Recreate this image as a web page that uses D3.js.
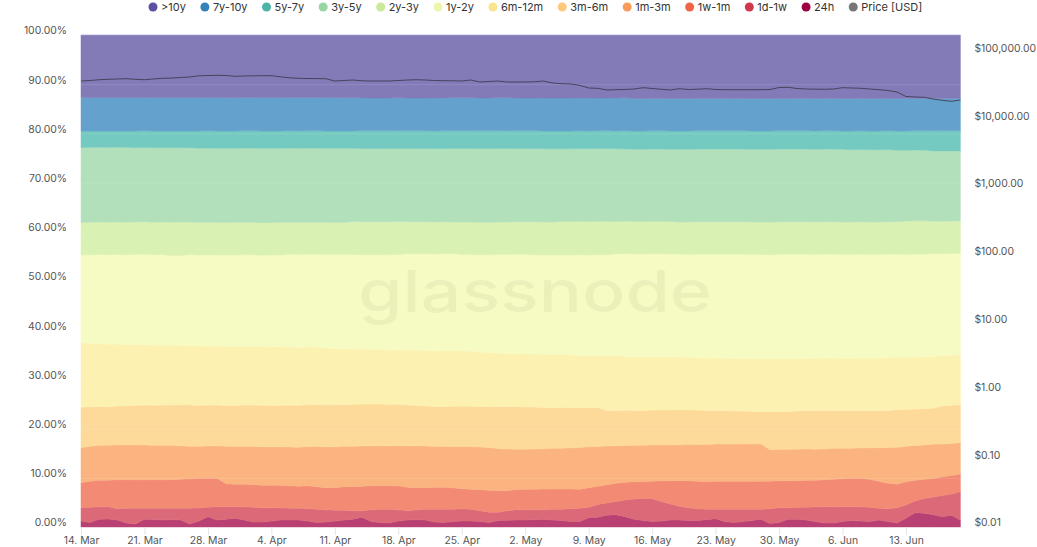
<!DOCTYPE html>
<html>
<head>
<meta charset="utf-8">
<script src="https://cdn.jsdelivr.net/npm/d3@7"></script>
<style>
  body { margin: 0; background: #fff; }
  svg { display: block; font-family: Inter, "Noto Sans", sans-serif; }
</style>
</head>
<body>
<svg id="chart" width="1037" height="547"></svg>
<script>
// ---------------- DATA ----------------
const startDate = "2022-03-14";
const dayCount = 98;

const cohorts = ["24h","1d-1w","1w-1m","1m-3m","3m-6m","6m-12m","1y-2y","2y-3y","3y-5y","5y-7y","7y-10y",">10y"];
const legendOrder = [">10y","7y-10y","5y-7y","3y-5y","2y-3y","1y-2y","6m-12m","3m-6m","1m-3m","1w-1m","1d-1w","24h"];

const s24h = [1.2,0.9,1.6,1.6,1.4,0.8,0.6,1.6,1.5,1.4, 1.5,1.4,0.6,1.2,2.1,1.4,1.6,1.8,1.4,1.0, 1.0,1.2,1.4,1.4,1.4,1.2,0.9,1.0,1.2,1.4, 1.6,2.0,1.1,0.9,0.8,1.2,1.4,1.5,1.4,1.0, 0.9,1.1,1.2,1.2,1.1,0.9,1.3,1.4,1.4,1.4, 1.5,1.6,1.4,1.3,1.1,1.1,1.9,2.0,2.4,2.5, 2.1,1.6,1.3,1.1,1.2,1.4,1.4,1.3,1.3,1.5, 1.7,1.1,0.9,1.1,1.3,1.6,0.7,0.9,1.6,1.6, 1.4,1.1,0.8,0.8,1.1,1.3,1.2,1.1,1.4,1.1, 0.8,1.8,2.9,2.8,2.5,2.1,2.4,1.4];
const s1d1w = [2.7,3.1,2.5,2.5,2.3,3.0,3.2,2.2,2.3,2.4, 2.3,2.4,3.2,2.7,1.9,2.7,2.5,2.3,2.7,3.0, 2.9,2.7,2.5,2.4,2.4,2.5,2.7,2.5,2.2,2.0, 1.7,1.3,2.4,2.7,2.8,2.3,1.9,2.0,2.2,2.6, 2.7,2.5,2.5,2.4,2.2,2.1,1.7,1.9,2.1,2.1, 2.0,1.9,2.2,2.3,2.6,2.7,2.1,2.6,2.5,2.7, 3.4,4.1,4.5,4.7,4.0,3.3,2.8,2.6,2.4,2.1, 1.9,2.5,2.7,2.5,2.3,2.0,3.0,3.0,2.3,2.4, 2.6,3.0,3.3,3.3,3.0,2.8,2.9,2.9,2.4,2.6, 3.1,2.7,2.4,3.0,3.6,4.3,4.3,5.8];
const s1w1m = [5.1,5.3,5.4,5.4,5.9,5.8,5.8,5.8,5.8,5.8, 5.8,5.9,6.0,6.0,5.9,5.8,4.7,4.6,4.6,4.6, 4.6,4.6,4.6,4.6,4.5,4.7,4.6,4.5,4.6,4.8, 4.9,5.0,4.9,4.8,4.8,4.9,4.8,4.5,4.4,4.5, 4.5,4.4,4.1,4.1,4.3,4.5,4.4,4.1,4.1,4.2, 4.2,4.2,4.1,4.1,4.0,3.9,4.0,3.7,3.7,3.7, 3.6,3.5,3.4,3.5,4.2,4.7,5.2,5.5,5.6,5.6, 5.7,5.7,5.7,5.7,5.7,5.7,5.6,5.5,5.5,5.4, 5.5,5.4,5.5,5.6,5.7,5.8,5.8,5.7,5.5,5.2, 4.8,4.7,4.2,3.9,3.8,3.8,3.8,3.6];
const s1m3m = [7.1,7.1,7.1,7.1,7.1,7.1,7.1,7.1,7.0,7.0, 7.0,6.8,6.6,6.5,6.6,6.6,7.6,7.7,7.7,7.8, 7.8,7.8,7.8,7.9,7.9,8.0,8.2,8.3,8.3,8.2, 8.2,8.2,8.1,8.1,8.1,8.2,8.4,8.5,8.5,8.3, 8.3,8.4,8.6,8.7,8.7,8.7,8.6,8.5,8.2,8.1, 8.2,8.2,8.3,8.3,8.4,8.5,8.3,8.1,7.9,7.6, 7.5,7.4,7.4,7.4,7.3,7.3,7.3,7.4,7.5,7.6, 7.6,7.6,7.6,7.6,7.6,7.6,6.4,6.4,6.4,6.4, 6.4,6.3,6.3,6.3,6.2,6.1,6.2,6.4,6.8,7.3, 7.5,7.2,7.1,7.0,7.0,6.7,6.5,6.4];
const s3m6m = [8.2,8.0,7.9,7.8,7.9,7.9,8.0,8.1,8.1,8.2, 8.2,8.3,8.4,8.3,8.3,8.3,8.3,8.3,8.4,8.4, 8.4,8.4,8.4,8.5,8.5,8.5,8.5,8.5,8.5,8.5, 8.5,8.5,8.5,8.5,8.4,8.4,8.3,8.2,8.1,8.1, 8.1,8.2,8.2,8.2,8.2,8.3,8.5,8.6,8.7,8.6, 8.5,8.4,8.3,8.3,8.2,8.1,8.0,7.9,7.2,7.2, 7.2,7.1,7.1,7.1,7.1,7.1,7.1,7.0,7.0,6.9, 6.8,6.8,6.7,6.7,6.6,6.6,7.7,7.7,7.7,7.8, 7.8,7.8,7.8,7.7,7.6,7.6,7.6,7.5,7.5,7.5, 7.6,7.5,7.4,7.4,7.3,7.7,7.8,7.7];
const s6m12m = [13.1,12.9,12.8,12.7,12.6,12.4,12.4,12.3,12.2,12.2, 12.1,12.1,12.1,12.1,12.1,12.0,12.0,12.0,12.0,12.0, 11.9,11.9,11.9,11.9,11.8,11.7,11.7,11.6,11.5,11.4, 11.3,11.2,11.1,11.1,11.1,11.1,11.2,11.3,11.3,11.3, 11.3,11.3,11.3,11.2,11.1,11.0,10.9,10.8,10.7,10.8, 10.8,10.8,10.8,10.8,10.7,10.6,10.5,10.6,11.2,11.1, 11.0,10.9,10.9,10.9,10.9,10.8,10.8,10.7,10.7,10.7, 10.7,10.7,10.7,10.7,10.7,10.7,10.7,10.7,10.7,10.7, 10.6,10.7,10.7,10.7,10.7,10.7,10.7,10.7,10.8,10.8, 10.7,10.6,10.6,10.6,10.5,10.3,10.2,10.2];
const s1y2y = [17.8,18.0,18.1,18.2,18.2,18.3,18.3,18.4,18.4,18.4, 18.2,18.3,18.5,18.5,18.5,18.5,18.6,18.6,18.6,18.6, 18.6,18.7,18.7,18.8,18.9,18.9,18.9,19.0,19.1,19.1, 19.2,19.2,19.3,19.3,19.4,19.4,19.6,19.6,19.7,19.7, 19.8,19.8,19.6,19.7,19.8,19.9,20.1,20.2,20.3,20.3, 20.2,20.2,20.2,20.2,20.3,20.5,20.5,20.5,20.5,20.7, 20.9,20.9,20.9,20.9,20.9,20.9,20.9,20.9,21.0,21.1, 21.1,21.1,21.2,21.2,21.2,21.2,21.2,21.3,21.3,21.2, 21.2,21.1,21.1,21.1,21.1,21.1,21.1,21.1,21.0,21.0, 20.9,20.9,20.9,20.8,21.0,20.7,20.7,20.6];
const s2y3y = [6.6,6.6,6.6,6.6,6.6,6.6,6.6,6.6,6.6,6.6, 6.8,6.8,6.6,6.6,6.6,6.6,6.6,6.6,6.6,6.6, 6.6,6.6,6.6,6.5,6.5,6.5,6.5,6.5,6.5,6.5, 6.7,6.7,6.7,6.7,6.7,6.7,6.5,6.5,6.5,6.5, 6.5,6.4,6.6,6.6,6.6,6.6,6.6,6.6,6.6,6.6, 6.7,6.7,6.7,6.8,6.8,6.8,6.8,6.8,6.8,6.6, 6.6,6.6,6.6,6.6,6.6,6.6,6.5,6.6,6.6,6.6, 6.6,6.6,6.6,6.6,6.6,6.6,6.6,6.6,6.6,6.6, 6.6,6.6,6.6,6.6,6.6,6.6,6.6,6.6,6.6,6.6, 6.6,6.8,6.8,6.8,6.6,6.6,6.6,6.6];
const s3y5y = [15.2,15.2,15.2,15.2,15.2,15.2,15.1,15.1,15.1,15.1, 15.1,15.1,15.1,15.1,15.1,15.1,15.1,15.1,15.1,15.1, 15.1,15.1,15.1,15.1,15.1,15.1,15.1,15.1,15.1,15.1, 14.9,14.9,14.9,14.9,14.9,14.9,14.9,14.9,14.9,14.9, 14.9,15.0,15.0,15.0,15.0,15.0,15.0,15.0,14.9,14.9, 14.9,14.9,14.9,14.8,14.8,14.8,14.8,14.8,14.8,14.8, 14.7,14.7,14.7,14.7,14.7,14.7,14.8,14.8,14.8,14.8, 14.8,14.8,14.8,14.8,14.8,14.8,14.8,14.8,14.8,14.8, 14.8,14.8,14.8,14.8,14.8,14.7,14.7,14.7,14.7,14.7, 14.5,14.4,14.4,14.4,14.3,14.3,14.3,14.2];
const s5y7y = [3.3,3.3,3.3,3.3,3.3,3.3,3.4,3.4,3.4,3.4, 3.4,3.4,3.4,3.5,3.5,3.5,3.5,3.5,3.5,3.5, 3.5,3.5,3.5,3.5,3.5,3.5,3.5,3.5,3.5,3.5, 3.5,3.6,3.6,3.6,3.6,3.6,3.6,3.6,3.6,3.6, 3.6,3.6,3.6,3.6,3.6,3.6,3.6,3.6,3.6,3.6, 3.6,3.6,3.6,3.6,3.6,3.6,3.6,3.6,3.6,3.6, 3.7,3.7,3.7,3.7,3.7,3.7,3.7,3.7,3.7,3.7, 3.7,3.7,3.7,3.7,3.7,3.7,3.7,3.7,3.7,3.7, 3.7,3.7,3.7,3.7,3.7,3.8,3.8,3.8,3.8,3.8, 3.9,3.9,3.9,3.9,4.1,4.1,4.1,4.1];
const s7y10y = [6.8,6.8,6.8,6.8,6.8,6.8,6.8,6.8,6.8,6.8, 6.8,6.8,6.8,6.8,6.8,6.8,6.8,6.8,6.8,6.8, 6.8,6.8,6.8,6.8,6.8,6.8,6.8,6.8,6.8,6.8, 6.8,6.7,6.7,6.7,6.7,6.7,6.7,6.7,6.7,6.7, 6.7,6.7,6.7,6.7,6.7,6.7,6.7,6.7,6.7,6.7, 6.7,6.7,6.7,6.7,6.7,6.7,6.7,6.7,6.7,6.7, 6.7,6.6,6.6,6.6,6.6,6.6,6.6,6.6,6.6,6.6, 6.6,6.6,6.6,6.6,6.6,6.6,6.6,6.6,6.6,6.6, 6.6,6.6,6.6,6.6,6.6,6.6,6.6,6.6,6.6,6.6, 6.6,6.6,6.6,6.6,6.6,6.6,6.6,6.6];
const s10yPlus = [12.7,12.7,12.7,12.7,12.7,12.7,12.7,12.7,12.7,12.7, 12.7,12.7,12.7,12.7,12.7,12.7,12.7,12.7,12.7,12.7, 12.7,12.7,12.7,12.7,12.7,12.7,12.7,12.7,12.7,12.7, 12.7,12.8,12.8,12.8,12.8,12.8,12.8,12.8,12.8,12.8, 12.8,12.8,12.8,12.8,12.8,12.8,12.8,12.8,12.8,12.8, 12.8,12.8,12.8,12.8,12.8,12.8,12.8,12.8,12.8,12.8, 12.8,12.9,12.9,12.9,12.9,12.9,12.9,12.9,12.9,12.9, 12.9,12.9,12.9,12.9,12.9,12.9,12.9,12.9,12.9,12.9, 12.9,12.9,12.9,12.9,12.9,12.9,12.9,12.9,12.9,12.9, 12.9,12.9,12.9,12.9,12.9,12.9,12.9,12.9];

const priceUSD = [37860,38500,39560,40100,40520,40930,40100,39560,40520,41500, 41920,42640,43370,45180,45640,45950,45640,44420,44870,45180, 45330,45330,43670,42210,41500,41210,41070,40930,37860,38500, 39160,38120,37860,37860,37860,38500,39160,39560,39160,38500, 38250,38120,37860,39160,36600,37230,37860,36600,36600,36600, 36850,37860,35380,34550,34200,32720,29850,29550,27890,28180, 28370,28850,30160,29350,28570,27890,29150,28370,28660,29150, 28370,28180,28180,28180,28180,28180,28370,30360,30570,29350, 28850,28660,28570,28850,30160,29850,29550,28850,28180,27420, 26060,22370,21990,21770,20540,19650,19000,19860];

const xTickDates = ["2022-03-14","2022-03-21","2022-03-28","2022-04-04","2022-04-11","2022-04-18","2022-04-25","2022-05-02","2022-05-09","2022-05-16","2022-05-23","2022-05-30","2022-06-06","2022-06-13"];
const pctTicks = [0,0.1,0.2,0.3,0.4,0.5,0.6,0.7,0.8,0.9,1];
const priceTicks = [0.01,0.1,1,10,100,1000,10000,100000];

const seriesByCohort = {
  "24h": s24h, "1d-1w": s1d1w, "1w-1m": s1w1m, "1m-3m": s1m3m, "3m-6m": s3m6m,
  "6m-12m": s6m12m, "1y-2y": s1y2y, "2y-3y": s2y3y, "3y-5y": s3y5y, "5y-7y": s5y7y,
  "7y-10y": s7y10y, ">10y": s10yPlus
};

// ---------------- STYLE ----------------
const bandColor = {
  "24h": "#b84073", "1d-1w": "#dc6978", "1w-1m": "#f28a74", "1m-3m": "#fbb47f",
  "3m-6m": "#fdda99", "6m-12m": "#fdf1b1", "1y-2y": "#f6fbc3", "2y-3y": "#daf1b4",
  "3y-5y": "#b2e0bb", "5y-7y": "#74cac1", "7y-10y": "#64a2cd", ">10y": "#837bb8"
};
const legendColor = {
  ">10y": "#5e4fa2", "7y-10y": "#3582ba", "5y-7y": "#4bb3a8", "3y-5y": "#98d5a4",
  "2y-3y": "#c9e99b", "1y-2y": "#eef6ae", "6m-12m": "#fbe48f", "3m-6m": "#fcc87a",
  "1m-3m": "#f89d59", "1w-1m": "#ee6445", "1d-1w": "#d0384e", "24h": "#9e0142",
  "Price [USD]": "#777777"
};
const axisFont = "Inter, 'Noto Sans', sans-serif";
const axisSize = 10.4;

// ---------------- BUILD ----------------
const parse = d3.utcParse("%Y-%m-%d");
const d0 = parse(startDate);
const rows = d3.range(dayCount).map(i => {
  const r = { date: d3.utcDay.offset(d0, i), price: priceUSD[i] };
  cohorts.forEach(k => r[k] = seriesByCohort[k][i]);
  return r;
});

const svg = d3.select("#chart");
const plot = { left: 81, right: 960.4, top: 35, bottom: 527 };

const x = d3.scaleUtc().domain([rows[0].date, rows[rows.length - 1].date]).range([plot.left, plot.right]);
const y = d3.scaleLinear().domain([0, 1]).range([plot.bottom, plot.top]);
const yR = d3.scaleLog().domain([0.01, 180600]).range([plot.bottom, plot.top]);

const stack = d3.stack().keys(cohorts).offset(d3.stackOffsetExpand);
const layers = stack(rows);

const area = d3.area()
  .x(d => x(d.data.date))
  .y0(d => y(d[0]))
  .y1(d => y(d[1]))
  .curve(d3.curveLinear);

svg.append("g").selectAll("path").data(layers).join("path")
  .attr("d", area)
  .attr("fill", d => bandColor[d.key])
  .attr("stroke", d => bandColor[d.key])
  .attr("stroke-width", 0.5);

// faint gridlines
svg.append("g").selectAll("line").data(pctTicks).join("line")
  .attr("x1", plot.left).attr("x2", plot.right)
  .attr("y1", d => y(d) + 0.5).attr("y2", d => y(d) + 0.5)
  .attr("stroke", "#ffffff").attr("stroke-opacity", 0.12);

// watermark
svg.append("text")
  .attr("x", 535).attr("y", 312)
  .attr("text-anchor", "middle")
  .attr("font-family", "Inter, Roboto, sans-serif")
  .attr("font-weight", 500)
  .attr("font-size", 58)
  .attr("fill", "#000").attr("fill-opacity", 0.045)
  .attr("textLength", 354).attr("lengthAdjust", "spacingAndGlyphs")
  .text("glassnode");

// price line
const priceLine = d3.line().x(d => x(d.date)).y(d => yR(d.price)).curve(d3.curveLinear);
svg.append("path").datum(rows)
  .attr("d", priceLine)
  .attr("fill", "none")
  .attr("stroke", "#3e3d52")
  .attr("stroke-width", 1)
  .attr("stroke-opacity", 0.9);

// left axis
const leftAxis = svg.append("g")
  .attr("transform", `translate(${plot.left - 14},0)`)
  .call(d3.axisLeft(y).tickValues(pctTicks).tickFormat(d3.format(".2%")).tickSize(0).tickPadding(0));
leftAxis.select(".domain").remove();
leftAxis.selectAll("text")
  .attr("font-family", axisFont)
  .attr("font-size", axisSize).attr("fill", "#555")
  .attr("transform", "translate(0,-4.5)");

// right axis
const rightAxis = svg.append("g")
  .attr("transform", `translate(${plot.right + 14},0)`)
  .call(d3.axisRight(yR).tickValues(priceTicks).tickFormat(d => "$" + d3.format(",.2f")(d)).tickSize(0).tickPadding(0));
rightAxis.select(".domain").remove();
rightAxis.selectAll("text")
  .attr("font-family", axisFont)
  .attr("font-size", axisSize).attr("fill", "#555")
  .attr("transform", "translate(0,-4.5)");

// bottom axis
const tickDates = xTickDates.map(parse);
const bottomAxis = svg.append("g")
  .attr("transform", `translate(0,${plot.bottom})`)
  .call(d3.axisBottom(x).tickValues(tickDates).tickFormat(d3.utcFormat("%-d. %b")).tickSize(8).tickPadding(2));
bottomAxis.select(".domain").remove();
bottomAxis.selectAll("line").attr("stroke", "#e6e6e6");
bottomAxis.selectAll("text")
  .attr("font-family", axisFont)
  .attr("font-size", axisSize).attr("fill", "#555");

// legend
const legendItems = legendOrder.concat(["Price [USD]"]);
const lg = svg.append("g");
let cx = 153;
legendItems.forEach(name => {
  lg.append("circle").attr("cx", cx).attr("cy", 7).attr("r", 4.5).attr("fill", legendColor[name]);
  const t = lg.append("text")
    .attr("x", cx + 8).attr("y", 7).attr("dy", "0.35em")
    .attr("font-family", axisFont)
    .attr("font-size", 11).attr("fill", "#333")
    .text(name);
  cx += 8 + t.node().getComputedTextLength() + 19;
});
</script>
</body>
</html>
